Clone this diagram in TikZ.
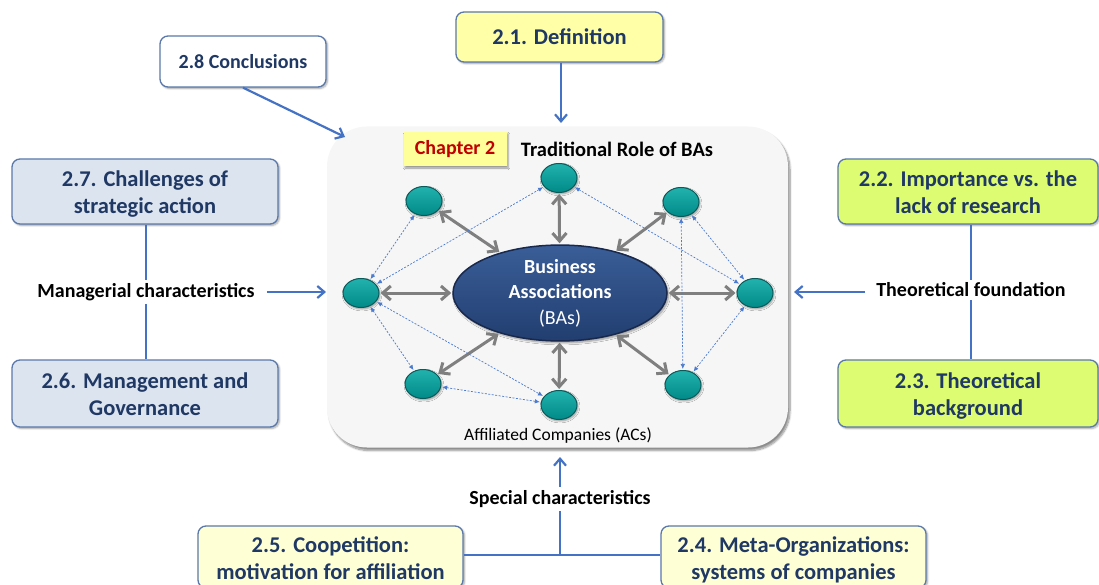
\documentclass[tikz,border=0pt]{standalone}
\usepackage{fontspec}
\setmainfont{Carlito}
\usetikzlibrary{arrows.meta,shapes.geometric,shadows.blur,calc}

\definecolor{txtblue}{HTML}{1F3864}
\definecolor{boxline}{HTML}{5A78AA}
\definecolor{linkblue}{HTML}{4472C4}
\definecolor{dotblue}{HTML}{4A7BD0}
\definecolor{defyellow}{HTML}{FFFFA8}
\definecolor{paleblue}{HTML}{DCE4F0}
\definecolor{limegreen}{HTML}{DEFC72}
\definecolor{cream}{HTML}{FFFFD6}
\definecolor{chapyellow}{HTML}{FFFF9A}
\definecolor{chapred}{HTML}{C00000}
\definecolor{panel}{HTML}{F6F6F6}
\definecolor{tealtop}{HTML}{22B2AE}
\definecolor{tealbot}{HTML}{008A88}
\definecolor{tealline}{HTML}{0B5A5A}
\definecolor{batop}{HTML}{3A5E98}
\definecolor{babot}{HTML}{223E70}
\definecolor{baline}{HTML}{18294D}
\definecolor{linkgray}{HTML}{7F7F7F}

% uniform line box for the two-line section titles
\newcommand\titlestrut{\rule[-5pt]{0pt}{27pt}}

\tikzset{
  sect/.style={draw=boxline, line width=1.3pt, rounded corners=8pt, align=center,
    font=\fontsize{22.5}{27}\selectfont\bfseries, text=txtblue, inner sep=0pt,
    blur shadow={shadow xshift=1.5pt, shadow yshift=-1.5pt, shadow blur steps=5, shadow opacity=35}},
  lbl/.style={font=\fontsize{20}{24}\selectfont\bfseries, text=black, inner sep=3pt},
  feed/.style={draw=linkblue, line width=2.2pt, -{Straight Barb[length=7pt,width=12pt]}},
  linkline/.style={draw=linkblue, line width=2pt},
  member/.style={ellipse, minimum width=36pt, minimum height=29pt, inner sep=0pt,
    draw=tealline, line width=1pt, top color=tealtop, bottom color=tealbot,
    blur shadow={shadow xshift=1pt, shadow yshift=-1.5pt, shadow blur steps=4, shadow opacity=40}},
  tie/.style={draw=linkgray, line width=3pt, {Straight Barb[length=8pt,width=14pt]}-{Straight Barb[length=8pt,width=14pt]}, shorten <=1pt, shorten >=1pt},
  peer/.style={draw=dotblue, line width=0.7pt, dash pattern=on 2pt off 1.5pt,
    {Latex[length=5pt,width=4.5pt]}-{Latex[length=5pt,width=4.5pt]}, shorten <=1pt, shorten >=1pt}
}

\begin{document}
\begin{tikzpicture}[x=1pt,y=-1pt]
\useasboundingbox (0,0) rectangle (1099,585);

% central panel
\node[draw=none, fill=panel, rounded corners=40pt, minimum width=461pt, minimum height=321pt,
  blur shadow={shadow xshift=2pt, shadow yshift=-3pt, shadow blur steps=8, shadow opacity=45}]
  (panel) at (557.5,287) {};

\node[fill=chapyellow, minimum width=103pt, minimum height=34pt, inner sep=0pt,
  font=\fontsize{20}{24}\selectfont\bfseries, text=chapred,
  blur shadow={shadow xshift=1.5pt, shadow yshift=-1.5pt, shadow blur steps=4, shadow opacity=40}]
  (chap) at (455,149.5) {Chapter 2};
\node[font=\fontsize{20.5}{24}\selectfont\bfseries] (role) at (617,149) {Traditional Role of BAs};
\node[font=\fontsize{17.5}{21}\selectfont] (acs) at (558,436) {Affiliated Companies (ACs)};

% hub and members
\node[ellipse, minimum width=214pt, minimum height=80pt, inner sep=0pt, draw=baline, line width=1.5pt,
  top color=batop, bottom color=babot, text=white, align=center,
  font=\fontsize{20}{25.5}\selectfont,
  blur shadow={shadow xshift=1.5pt, shadow yshift=-2pt, shadow blur steps=5, shadow opacity=40}]
  (ba) at (560,293) {\textbf{Business}\\\textbf{Associations}\\(BAs)};

\node[member] (mt)  at (559,178) {};
\node[member] (mtl) at (424,201) {};
\node[member] (mtr) at (681,202) {};
\node[member] (ml)  at (361,293) {};
\node[member] (mr)  at (755,293) {};
\node[member] (mbl) at (423,384) {};
\node[member] (mb)  at (559,405) {};
\node[member] (mbr) at (683,385) {};

\foreach \m in {mt,mtl,mtr,ml,mr,mbl,mb,mbr} \draw[tie] (\m) -- (ba);

\draw[peer] (mtl) -- (ml);
\draw[peer] (mt) -- (ml);
\draw[peer] (mt) -- (mr);
\draw[peer] (mtr) -- (mr);
\draw[peer] (mtr) -- (mbr);
\draw[peer] (mr) -- (mbr);
\draw[peer] (ml) -- (mbl);
\draw[peer] (ml) -- (mb);
\draw[peer] (mbl) -- (mb);

% section boxes
\node[sect, fill=defyellow, minimum width=207pt, minimum height=50pt] (s21) at (559.5,37) {2.1. Definition};
\node[sect, fill=white, minimum width=166pt, minimum height=51pt, font=\fontsize{20}{24}\selectfont\bfseries] (s28) at (243,61.5) {2.8 Conclusions};
\node[sect, fill=paleblue, minimum width=266pt, minimum height=65pt] (s27) at (145,191.5) {\titlestrut 2.7. Challenges of\\\titlestrut strategic action};
\node[sect, fill=paleblue, minimum width=266pt, minimum height=67pt] (s26) at (145,393.5) {\titlestrut 2.6. Management and\\\titlestrut Governance};
\node[sect, fill=limegreen, minimum width=260pt, minimum height=65pt] (s22) at (968,191.5) {\titlestrut 2.2. Importance vs. the\\\titlestrut lack of research};
\node[sect, fill=limegreen, minimum width=260pt, minimum height=67pt] (s23) at (968,393.5) {\titlestrut 2.3. Theoretical\\\titlestrut background};
\node[sect, fill=cream, minimum width=265pt, minimum height=62pt] (s25) at (330.5,557) {\titlestrut 2.5. Coopetition:\\\titlestrut motivation for affiliation};
\node[sect, fill=cream, minimum width=265pt, minimum height=62pt] (s24) at (793.5,557) {\titlestrut 2.4. Meta-Organizations:\\\titlestrut systems of companies};

% group labels
\node[lbl] (mc) at (146,292) {Managerial characteristics};
\node[lbl] (tf) at (971,290) {Theoretical foundation};
\node[lbl] (sc) at (560,499) {Special characteristics};

% connectors
\coordinate (defin) at (561,123);
\coordinate (conin) at (345,137);
\coordinate (mcin) at (326,292);
\coordinate (tfin) at (794,292);
\coordinate (scin) at (560,457);
\coordinate (fork) at (560,555);

\draw[feed] (s21.south -| defin) -- (defin);
\draw[feed] (s28.south) -- (conin);
\draw[linkline] (s27.south -| mc) -- (mc);
\draw[linkline] (mc) -- (s26.north -| mc);
\draw[feed] (mc.east |- mcin) ++(9,0) -- (mcin);
\draw[linkline] (s22.south -| tf) -- (tf);
\draw[linkline] (tf) -- (s23.north -| tf);
\draw[feed] (tf.west |- tfin) ++(-8,0) -- (tfin);
\draw[feed] (sc.north) -- (scin);
\draw[linkline] (sc.south) -- (fork);
\draw[linkline] (s25.east |- fork) -- (s24.west |- fork);
\end{tikzpicture}
\end{document}
